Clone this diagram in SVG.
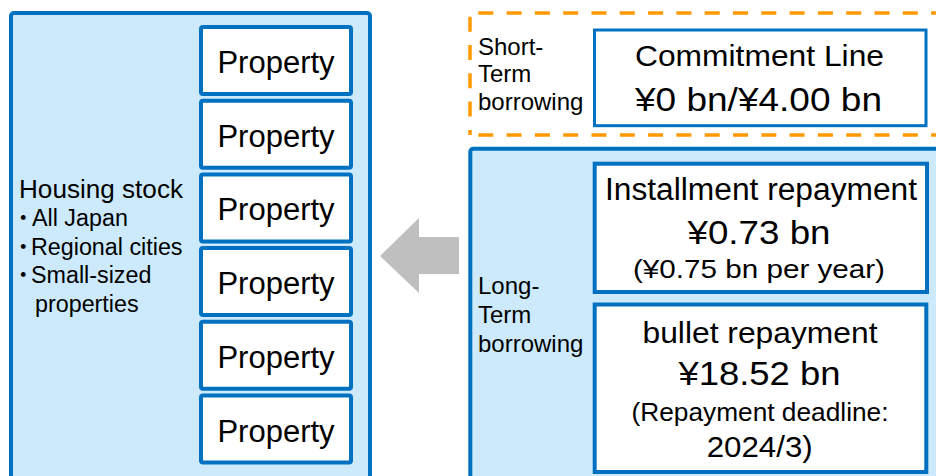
<svg xmlns="http://www.w3.org/2000/svg" width="936" height="476" viewBox="0 0 936 476">
<style>
text{font-family:"Liberation Sans",Arial,"Noto Sans CJK JP",sans-serif;fill:#000;}
.panel{fill:#CCEAFC;stroke:#0070C0;stroke-width:4;}
.box{fill:#fff;stroke:#0070C0;stroke-width:4;}
.prop{font-size:31px;text-anchor:middle;}
.lbl{font-size:24px;}
.hs{font-size:23.3px;}
.dot{font-family:"Noto Sans CJK JP",sans-serif;font-weight:900;font-size:17px;}
.c{text-anchor:middle;}
.dash{fill:none;stroke:#FF9900;stroke-width:3.5;stroke-dasharray:15 13.3;}
</style>
<g id="housing">
<rect class="panel" x="11" y="13" width="359" height="480" rx="3"/>
<text x="19" y="198" font-size="25" textLength="164" lengthAdjust="spacingAndGlyphs">Housing stock</text>
<text class="hs" y="226"><tspan class="dot" x="14.8" dy="-2">・</tspan><tspan x="32" dy="2">All Japan</tspan></text>
<text class="hs" y="254.7"><tspan class="dot" x="14.8" dy="-2">・</tspan><tspan x="31" dy="2">Regional cities</tspan></text>
<text class="hs" y="283.4"><tspan class="dot" x="14.8" dy="-2">・</tspan><tspan x="31" dy="2">Small-sized</tspan></text>
<text class="hs" x="35" y="312">properties</text>
</g>
<g id="property1"><rect class="box" x="201" y="27" width="150" height="67" rx="2"/><text class="prop" x="276" y="73">Property</text></g>
<g id="property2"><rect class="box" x="201" y="100.7" width="150" height="67" rx="2"/><text class="prop" x="276" y="146.7">Property</text></g>
<g id="property3"><rect class="box" x="201" y="174.4" width="150" height="67" rx="2"/><text class="prop" x="276" y="220.4">Property</text></g>
<g id="property4"><rect class="box" x="201" y="248.1" width="150" height="67" rx="2"/><text class="prop" x="276" y="294.1">Property</text></g>
<g id="property5"><rect class="box" x="201" y="321.8" width="150" height="67" rx="2"/><text class="prop" x="276" y="367.8">Property</text></g>
<g id="property6"><rect class="box" x="201" y="395.5" width="150" height="67" rx="2"/><text class="prop" x="276" y="441.5">Property</text></g>
<g id="short-term">
<path class="dash" d="M470,13 V135" stroke-dashoffset="24.6"/>
<path class="dash" d="M470,13 H940" stroke-dashoffset="20"/>
<path class="dash" d="M470,135 H940" stroke-dashoffset="20"/>
<text class="lbl" x="478" y="55">Short-</text>
<text class="lbl" x="478" y="82">Term</text>
<text class="lbl" x="478" y="110">borrowing</text>
</g>
<g id="commitment">
<rect x="594.5" y="30" width="331.5" height="95.7" fill="#fff" stroke="#0070C0" stroke-width="3"/>
<text class="c" x="759.5" y="65.7" font-size="29" textLength="249" lengthAdjust="spacingAndGlyphs">Commitment Line</text>
<text class="c" x="758.5" y="111" font-size="34" textLength="247" lengthAdjust="spacingAndGlyphs">¥0 bn/¥4.00 bn</text>
</g>
<g id="long-term">
<rect class="panel" x="470.3" y="148.7" width="480" height="340" rx="3"/>
<text class="lbl" x="478" y="294">Long-</text>
<text class="lbl" x="478" y="323">Term</text>
<text class="lbl" x="478" y="352">borrowing</text>
</g>
<g id="installment">
<rect class="box" x="594.7" y="163.7" width="332.3" height="128.3"/>
<text class="c" x="761" y="200" font-size="31" textLength="312" lengthAdjust="spacingAndGlyphs">Installment repayment</text>
<text class="c" x="759" y="244" font-size="33" textLength="143" lengthAdjust="spacingAndGlyphs">¥0.73 bn</text>
<text class="c" x="759" y="278" font-size="26" textLength="252" lengthAdjust="spacingAndGlyphs">(¥0.75 bn per year)</text>
</g>
<g id="bullet">
<rect class="box" x="594.7" y="304.5" width="331.6" height="167.5"/>
<text class="c" x="760" y="343" font-size="30" textLength="235" lengthAdjust="spacingAndGlyphs">bullet repayment</text>
<text class="c" x="759.5" y="385" font-size="34" textLength="162" lengthAdjust="spacingAndGlyphs">¥18.52 bn</text>
<text class="c" x="760" y="421" font-size="25" textLength="257" lengthAdjust="spacingAndGlyphs">(Repayment deadline:</text>
<text class="c" x="759.7" y="456.5" font-size="29" textLength="106" lengthAdjust="spacingAndGlyphs">2024/3)</text>
</g>
<g id="connectors">
<polygon points="380,256 419,218 419,237 459,237 459,274 419,274 419,293" fill="#BFBFBF"/>
</g>
</svg>
